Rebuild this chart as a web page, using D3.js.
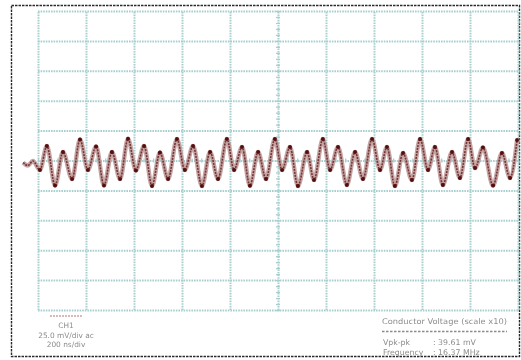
<!DOCTYPE html>
<html>
<head>
<meta charset="utf-8">
<script src="https://cdn.jsdelivr.net/npm/d3@7"></script>
<style>
  html, body { margin: 0; padding: 0; background: #fff; }
  svg { display: block; }
  text { font-family: "DejaVu Sans", "Liberation Sans", sans-serif; fill: #8c8c8c; }
</style>
</head>
<body>
<svg id="scope" width="521" height="360"></svg>
<script>
// Channel 1 trace: turning points of the captured waveform (time in ns, voltage in mV)
const traceTime = [-62, -42, -21, 8, 37, 71, 104, 142, 175, 208, 242, 275, 308, 342, 375,
  408, 442, 475, 508, 542, 579, 612, 646, 683, 717, 750, 787, 817, 850, 883, 917, 950,
  987, 1017, 1050, 1083, 1121, 1150, 1187, 1217, 1250, 1287, 1321, 1354, 1392, 1425,
  1454, 1487, 1521, 1558, 1592, 1625, 1654, 1687, 1725, 1758, 1792, 1821, 1854, 1896,
  1933, 1967, 1996];
const traceVolts = [-1.7, -4.2, -0.4, -7.9, 12.1, -21.0, 7.1, -15.5, 17.6, -7.9, 11.7,
  -20.8, 7.1, -15.5, 18.2, -8.3, 12.1, -21.3, 6.7, -15.5, 18.0, -7.9, 12.1, -21.4, 7.1,
  -15.5, 18.0, -7.9, 11.3, -21.1, 7.1, -15.5, 18.0, -7.9, 11.3, -21.4, 7.1, -16.3, 18.0,
  -7.9, 11.3, -20.5, 7.1, -15.5, 18.0, -7.9, 11.3, -21.4, 6.3, -16.3, 18.0, -7.9, 11.3,
  -20.5, 7.1, -14.6, 18.0, -6.3, 10.9, -21.0, 6.3, -14.6, 17.1];

// Screen settings
const divisionsX = 10, divisionsY = 10;
const timePerDiv = 200;   // ns/div
const voltsPerDiv = 25;   // mV/div
const legendLines = ["CH1", "25.0 mV/div ac", "200 ns/div"];
const measureTitle = "Conductor Voltage (scale x10)";
const measureNames = ["Vpk-pk", "Frequency"];
const measureValues = [": 39.61 mV", ": 16.37 MHz"];

const svg = d3.select("#scope");
const gLeft = 38, gRight = 518, gTop = 11, gBottom = 310;

// soft phosphor look for trace and readouts
const defs = svg.append("defs");
defs.append("filter").attr("id", "soft")
  .append("feGaussianBlur").attr("stdDeviation", 0.45);

const x = d3.scaleLinear().domain([0, divisionsX * timePerDiv]).range([gLeft, gRight]);
const y = d3.scaleLinear()
  .domain([-divisionsY / 2 * voltsPerDiv, divisionsY / 2 * voltsPerDiv])
  .range([gBottom, gTop]);

// outer frame
svg.append("rect")
  .attr("x", 11.5).attr("y", 5.5).attr("width", 508).attr("height", 351)
  .attr("fill", "none").attr("stroke", "#2a2a2a").attr("stroke-width", 1.4)
  .attr("stroke-dasharray", "2.5 1");

const gridColor = "#a8cfcf";
const gridG = svg.append("g");

// vertical division lines
const xDivs = d3.range(0, divisionsX + 1).map(d => d * timePerDiv);
gridG.append("g")
  .attr("transform", `translate(0,${gBottom})`)
  .call(d3.axisBottom(x).tickValues(xDivs).tickSize(-(gBottom - gTop)).tickFormat(""))
  .call(g => g.select(".domain").remove());

// horizontal division lines
const yDivs = d3.range(-divisionsY / 2, divisionsY / 2 + 1).map(d => d * voltsPerDiv);
gridG.append("g")
  .attr("transform", `translate(${gLeft},0)`)
  .call(d3.axisLeft(y).tickValues(yDivs).tickSize(-(gRight - gLeft)).tickFormat(""))
  .call(g => g.select(".domain").remove());

gridG.selectAll("line")
  .attr("stroke", gridColor).attr("stroke-width", 2)
  .attr("stroke-dasharray", "1.6 1");

// minor ticks on the centre axes
const xMinor = d3.range(0, divisionsX * 5 + 1).map(d => d * timePerDiv / 5);
svg.append("g")
  .attr("transform", `translate(0,${y(0)})`)
  .call(d3.axisBottom(x).tickValues(xMinor).tickSize(4).tickFormat(""))
  .call(g => g.select(".domain").remove())
  .selectAll("line").attr("stroke", gridColor).attr("stroke-width", 1.3)
  .attr("transform", "translate(0,-2)");

const yMinor = d3.range(-divisionsY / 2 * 5, divisionsY / 2 * 5 + 1).map(d => d * voltsPerDiv / 5);
svg.append("g")
  .attr("transform", `translate(${x(timePerDiv * divisionsX / 2)},0)`)
  .call(d3.axisLeft(y).tickValues(yMinor).tickSize(4).tickFormat(""))
  .call(g => g.select(".domain").remove())
  .selectAll("line").attr("stroke", gridColor).attr("stroke-width", 1.3)
  .attr("transform", "translate(2,0)");

// waveform
const pts = traceTime.map((t, i) => [t, traceVolts[i]]);
const line = d3.line()
  .x(d => x(d[0])).y(d => y(d[1]))
  .curve(d3.curveMonotoneX);

const traceG = svg.append("g").attr("filter", "url(#soft)");
traceG.append("path").datum(pts)
  .attr("d", line).attr("fill", "none")
  .attr("stroke", "#bb9494").attr("stroke-width", 4.4).attr("stroke-opacity", 0.85)
  .attr("stroke-linejoin", "round");
traceG.append("path").datum(pts)
  .attr("d", line).attr("fill", "none")
  .attr("stroke", "#763636").attr("stroke-width", 1.6)
  .attr("stroke-dasharray", "2 1");
traceG.append("g").selectAll("circle")
  .data(pts.slice(3))
  .join("circle")
  .attr("cx", d => x(d[0])).attr("cy", d => y(d[1]))
  .attr("r", 2).attr("fill", "#561010");

// channel legend
const textG = svg.append("g").attr("filter", "url(#soft)");
textG.append("line")
  .attr("x1", 50).attr("x2", 83).attr("y1", 316).attr("y2", 316)
  .attr("stroke", "#d0a2a2").attr("stroke-width", 1.4).attr("stroke-dasharray", "2 1");
textG.append("g").selectAll("text")
  .data(legendLines)
  .join("text")
  .attr("x", 66).attr("y", (d, i) => 328 + i * 9.7)
  .attr("text-anchor", "middle").attr("font-size", 7.4)
  .text(d => d);

// measurements
textG.append("text")
  .attr("x", 382).attr("y", 324).attr("font-size", 7.8)
  .attr("textLength", 125).attr("lengthAdjust", "spacingAndGlyphs")
  .text(measureTitle);
textG.append("line")
  .attr("x1", 382).attr("x2", 507).attr("y1", 331.5).attr("y2", 331.5)
  .attr("stroke", "#8a8a8a").attr("stroke-width", 1.4).attr("stroke-dasharray", "2.5 1.5");
textG.append("g").selectAll("text")
  .data(measureNames)
  .join("text")
  .attr("x", 383).attr("y", (d, i) => 344.5 + i * 10.5)
  .attr("font-size", 7.8)
  .text(d => d);
textG.append("g").selectAll("text")
  .data(measureValues)
  .join("text")
  .attr("x", 433).attr("y", (d, i) => 344.5 + i * 10.5)
  .attr("font-size", 7.8)
  .text(d => d);
</script>
</body>
</html>
